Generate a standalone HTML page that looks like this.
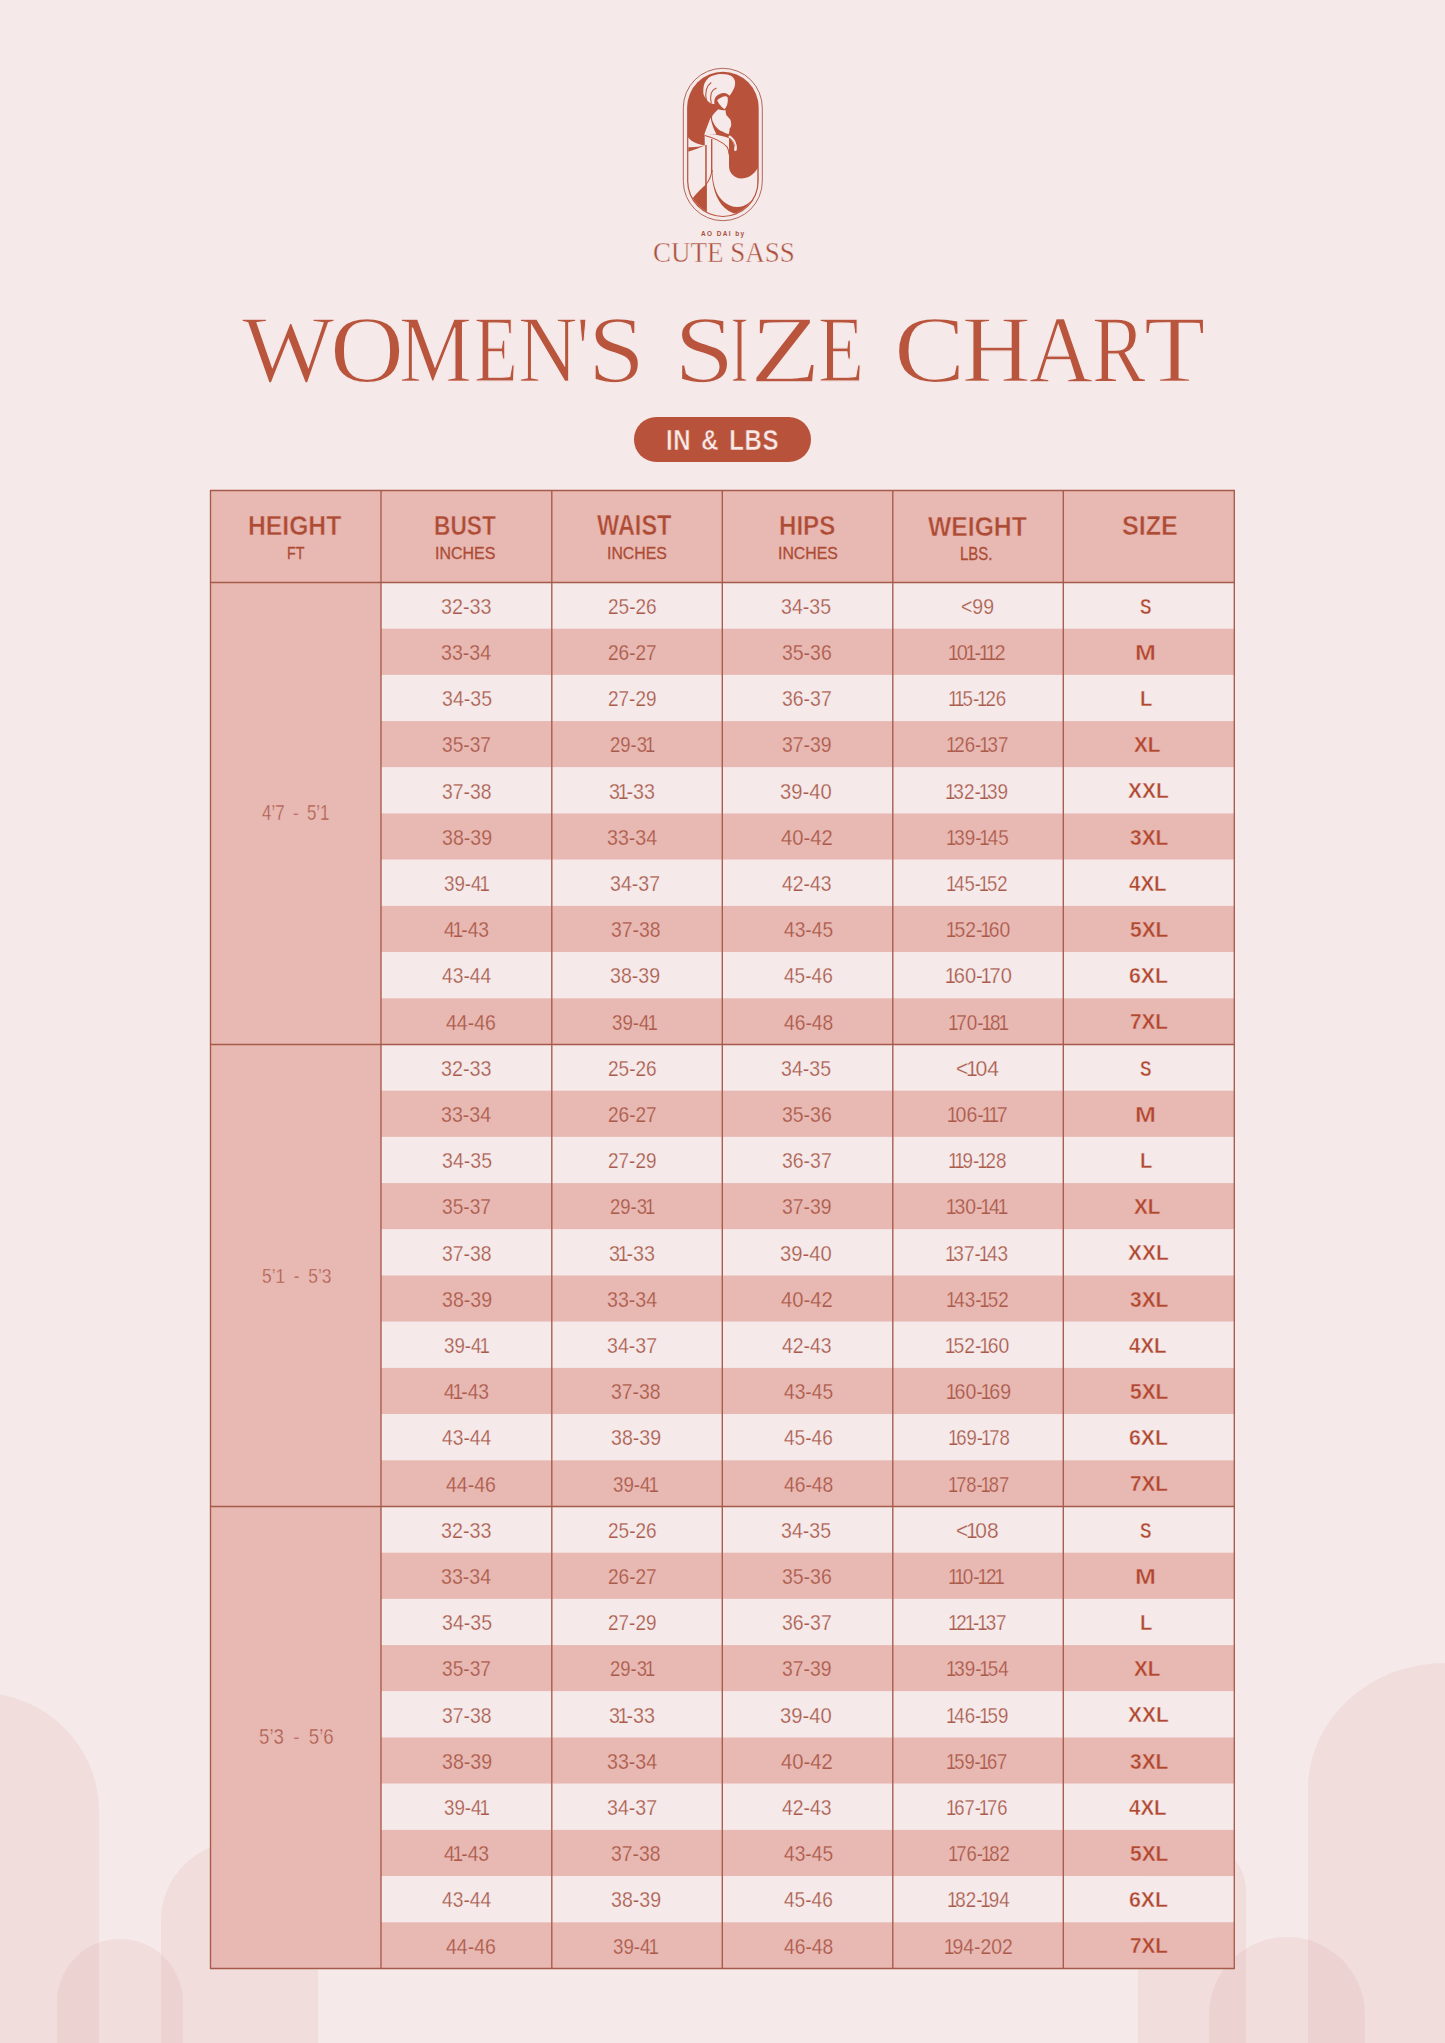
<!DOCTYPE html>
<html><head><meta charset="utf-8"><title>Women's Size Chart</title>
<style>
html,body{margin:0;padding:0;}
body{width:1445px;height:2043px;overflow:hidden;background:#f5e9ea;position:relative;font-family:"Liberation Sans",sans-serif;color:#b4533c;}
.arch{position:absolute;background:rgba(224,168,162,0.18);}
.n{position:absolute;white-space:nowrap;font-family:"Liberation Sans",sans-serif;font-size:21.6px;line-height:46px;color:#a95a4a;transform-origin:0 0;}
.o{margin:0 -2.4px}
.n.l{-webkit-text-stroke:0.25px #f5e9ea;}
.n.d{-webkit-text-stroke:0.25px #e8b8b2;}
.s{position:absolute;white-space:nowrap;transform-origin:0 0;font-family:"Liberation Sans",sans-serif;font-size:21.5px;line-height:46px;font-weight:bold;color:#b0472f;}
.s.l{-webkit-text-stroke:0.45px #f5e9ea;}
.s.d{-webkit-text-stroke:0.45px #e8b8b2;}
.pill{position:absolute;left:633.8px;top:417px;width:177.2px;height:44.6px;border-radius:22.3px;background:#b9523a;}
</style></head><body>
<div class="arch" style="left:-138.7px;top:1692.8px;width:237.4px;height:360.2px;border-radius:118.7px 118.7px 0 0 / 118.7px 118.7px 0 0"></div><div class="arch" style="left:161.0px;top:1842.0px;width:157.0px;height:211.0px;border-radius:78.5px 78.5px 0 0 / 78.5px 78.5px 0 0"></div><div class="arch" style="left:57.0px;top:1939.0px;width:126.0px;height:114.0px;border-radius:63.0px 63.0px 0 0 / 63.0px 63.0px 0 0"></div><div class="arch" style="left:1307.5px;top:1663.0px;width:275.0px;height:390.0px;border-radius:137.5px 137.5px 0 0 / 126.0px 126.0px 0 0"></div><div class="arch" style="left:1138.0px;top:1838.0px;width:108.0px;height:215.0px;border-radius:54.0px 54.0px 0 0 / 54.0px 54.0px 0 0"></div><div class="arch" style="left:1209.0px;top:1937.0px;width:156.0px;height:116.0px;border-radius:78.0px 78.0px 0 0 / 78.0px 78.0px 0 0"></div>
<svg style="position:absolute;left:675px;top:62px" width="96" height="164" viewBox="675 62 96 164">
<defs><clipPath id="cl"><rect x="688.3" y="73" width="69.2" height="142.9" rx="34.6"/></clipPath></defs>
<rect x="683.3" y="68.3" width="79" height="152.4" rx="39.5" fill="none" stroke="#a85a4a" stroke-width="0.9"/>
<rect x="687.1" y="71.8" width="71.6" height="145.3" rx="35.8" fill="#b9523a"/>
<g clip-path="url(#cl)" fill="#f5e9ea">
<path d="M714.4,104 C711,104.5 708,102 706.4,99.1 C704.5,97 703.2,94.5 703.3,92.2 C703.2,87 704,84 705.4,81.8 C707,79 709,77.3 711.6,76 C715,74.5 718.5,73.9 722,73.9 C726,73.9 729,74.8 731.3,76 C733.5,77.5 735,79.8 735.1,82.5 C735.2,85 734.6,87 733.8,88.8 C732.6,91.5 731.2,93.8 729.6,95.7 C728,94 726,93 724.4,92.9 C722.5,92.8 720.8,93.3 719.2,94.3 C717.3,95.3 715.8,96.7 715.1,98.1 C714.3,100 714.2,102 714.4,104 Z"/>
<path d="M717.2,100.2 C719.5,98.2 722,96.6 724.9,96.2 C726,96.1 727,96.6 727.7,97.5 C728,99.5 727.9,101.8 727.4,103.8 C727,105.5 726.4,107 725.5,108 C725,108.7 724.5,109 724.1,108.9 C722.5,107.8 721,106.3 719.8,104.8 C718.6,103.3 717.7,101.8 717.2,100.2 Z"/>
<path d="M718.4,109.2 C716.5,111 714.5,112.5 712.3,115.8 C711.8,118 712,120 712.9,121.4 C714,124 715,125.5 716.2,126.9 C718,129 720,130.5 721.8,131.3 C724,132.5 726,133.5 728.6,134.2 C729.5,132 729.6,130.5 729.5,129.1 C730.5,127.5 731.3,126 731.2,124.7 C731.2,122 730.8,120.5 730.1,119.2 C728.5,117.5 727,116 726.2,114.7 C725.8,113 725.6,111.5 725.6,110.3 C723.5,110.5 720.5,110 718.4,109.2 Z"/>
<path d="M710.6,117.5 L704.3,134.3 L716.5,134.6 C713.5,129 711.4,123 710.6,117.5 Z"/>
<path d="M687.7,136.8 C691,141 697,144.6 704.8,145.2 L704.6,134 C710,134 716,134.6 721.8,135.9 C724.5,136.6 727,137.4 729,138.2 L729,166 C729,173 734.4,178.4 741.2,178.4 C748,178.4 754,175 757.6,168 L757.6,217 L687.5,217 Z"/>
</g>
<g clip-path="url(#cl)" fill="#b9523a">
<path d="M687.6,147.2 C694,147.6 700,146.6 705,145.3 C700,148 694,150 687.6,151.8 Z"/>
<path d="M692.4,198.5 C697,192.5 702,188 706.6,184 L706.6,217 L690,217 Z"/>
<path d="M711.6,170 C711.8,185 715.8,200 724.8,208 C729.8,212.5 735.8,214.5 741.8,215.5 L758,216.5 L758,190 C753,201 746,207 737,207 C728,207 720,200 716.5,192 C713.5,185 712.6,178 712.4,170 Z"/>
</g>
<g clip-path="url(#cl)" fill="none" stroke="#b9523a" stroke-width="1.05">
<path d="M705.95,145 L705.95,217" stroke-width="1.5"/>
<path d="M711.7,139 L711.7,172" stroke-width="1.35"/>
<path d="M711.9,170 C711.4,176 709.5,180 706,184.5"/>
<path d="M704.8,135.5 C709,136.6 713,137.9 717,139.9 C721.5,142.1 725,144.6 727.3,147.2 C728.4,149.2 728.9,151.5 729,154.5"/>
<path d="M706.4,100.5 C705.6,97 705.5,93 706.4,89.5 C707.3,86.5 709,84 711.3,82.5"/>
<path d="M711.3,103.3 C710.5,100 710.4,96 711.3,92.9 C712.3,90.5 714.2,88.8 716.5,88"/>

</g>
<g fill="none" stroke-linecap="round"><path d="M729.8,136.8 C732.6,138.8 734.6,141.8 735.4,145.6 C735.7,147.2 735.7,148.6 735.4,149.8" stroke="#f5e9ea" stroke-width="2.6"/><path d="M730.6,138.9 C732.7,140.6 734.1,142.9 734.8,146.2" stroke="#b9523a" stroke-width="0.7"/></g>
</svg>
<div class="pill"></div>
<div style="position:absolute;left:700.8px;top:229.9px;font-family:'Liberation Sans',sans-serif;font-weight:bold;font-size:6.6px;letter-spacing:1.45px;line-height:1.3;white-space:nowrap;color:#a9503c;transform-origin:0 0;transform:scaleX(0.977)">AO DAI by</div>
<svg style="position:absolute;left:0;top:0" width="1445" height="2043" viewBox="0 0 1445 2043"><rect x="210.5" y="490.5" width="1023.8" height="92.0" fill="#e8b8b2"/><rect x="210.5" y="582.5" width="170.5" height="1386.0" fill="#e8b8b2"/><rect x="381.0" y="582.50" width="853.3" height="46.25" fill="#f5e9ea"/><rect x="381.0" y="628.70" width="853.3" height="46.25" fill="#e8b8b2"/><rect x="381.0" y="674.90" width="853.3" height="46.25" fill="#f5e9ea"/><rect x="381.0" y="721.10" width="853.3" height="46.25" fill="#e8b8b2"/><rect x="381.0" y="767.30" width="853.3" height="46.25" fill="#f5e9ea"/><rect x="381.0" y="813.50" width="853.3" height="46.25" fill="#e8b8b2"/><rect x="381.0" y="859.70" width="853.3" height="46.25" fill="#f5e9ea"/><rect x="381.0" y="905.90" width="853.3" height="46.25" fill="#e8b8b2"/><rect x="381.0" y="952.10" width="853.3" height="46.25" fill="#f5e9ea"/><rect x="381.0" y="998.30" width="853.3" height="46.25" fill="#e8b8b2"/><rect x="381.0" y="1044.50" width="853.3" height="46.25" fill="#f5e9ea"/><rect x="381.0" y="1090.70" width="853.3" height="46.25" fill="#e8b8b2"/><rect x="381.0" y="1136.90" width="853.3" height="46.25" fill="#f5e9ea"/><rect x="381.0" y="1183.10" width="853.3" height="46.25" fill="#e8b8b2"/><rect x="381.0" y="1229.30" width="853.3" height="46.25" fill="#f5e9ea"/><rect x="381.0" y="1275.50" width="853.3" height="46.25" fill="#e8b8b2"/><rect x="381.0" y="1321.70" width="853.3" height="46.25" fill="#f5e9ea"/><rect x="381.0" y="1367.90" width="853.3" height="46.25" fill="#e8b8b2"/><rect x="381.0" y="1414.10" width="853.3" height="46.25" fill="#f5e9ea"/><rect x="381.0" y="1460.30" width="853.3" height="46.25" fill="#e8b8b2"/><rect x="381.0" y="1506.50" width="853.3" height="46.25" fill="#f5e9ea"/><rect x="381.0" y="1552.70" width="853.3" height="46.25" fill="#e8b8b2"/><rect x="381.0" y="1598.90" width="853.3" height="46.25" fill="#f5e9ea"/><rect x="381.0" y="1645.10" width="853.3" height="46.25" fill="#e8b8b2"/><rect x="381.0" y="1691.30" width="853.3" height="46.25" fill="#f5e9ea"/><rect x="381.0" y="1737.50" width="853.3" height="46.25" fill="#e8b8b2"/><rect x="381.0" y="1783.70" width="853.3" height="46.25" fill="#f5e9ea"/><rect x="381.0" y="1829.90" width="853.3" height="46.25" fill="#e8b8b2"/><rect x="381.0" y="1876.10" width="853.3" height="46.25" fill="#f5e9ea"/><rect x="381.0" y="1922.30" width="853.3" height="46.25" fill="#e8b8b2"/><line x1="210.5" y1="490.5" x2="210.5" y2="1968.5" stroke="#a65a49" stroke-width="1.35"/><line x1="381.0" y1="490.5" x2="381.0" y2="1968.5" stroke="#a65a49" stroke-width="1.35"/><line x1="551.8" y1="490.5" x2="551.8" y2="1968.5" stroke="#a65a49" stroke-width="1.35"/><line x1="722.3" y1="490.5" x2="722.3" y2="1968.5" stroke="#a65a49" stroke-width="1.35"/><line x1="892.8" y1="490.5" x2="892.8" y2="1968.5" stroke="#a65a49" stroke-width="1.35"/><line x1="1063.3" y1="490.5" x2="1063.3" y2="1968.5" stroke="#a65a49" stroke-width="1.35"/><line x1="1234.3" y1="490.5" x2="1234.3" y2="1968.5" stroke="#a65a49" stroke-width="1.35"/><line x1="209.9" y1="490.50" x2="1234.8999999999999" y2="490.50" stroke="#a65a49" stroke-width="1.35"/><line x1="209.9" y1="582.50" x2="1234.8999999999999" y2="582.50" stroke="#a65a49" stroke-width="1.35"/><line x1="209.9" y1="1044.50" x2="1234.8999999999999" y2="1044.50" stroke="#a65a49" stroke-width="1.35"/><line x1="209.9" y1="1506.50" x2="1234.8999999999999" y2="1506.50" stroke="#a65a49" stroke-width="1.35"/><line x1="209.9" y1="1968.50" x2="1234.8999999999999" y2="1968.50" stroke="#a65a49" stroke-width="1.35"/></svg>
<div style="position:absolute;left:242.00px;top:287.60px;white-space:nowrap;font-family:'Liberation Serif',serif;color:#b9553d;font-size:96.06px;line-height:1.3;transform-origin:0 0;transform:scaleX(1.0189);-webkit-text-stroke:1.3px #f5e9ea">W</div><div style="position:absolute;left:329.90px;top:287.60px;white-space:nowrap;font-family:'Liberation Serif',serif;color:#b9553d;font-size:96.06px;line-height:1.3;transform-origin:0 0;transform:scaleX(1.0670);-webkit-text-stroke:1.3px #f5e9ea">O</div><div style="position:absolute;left:398.54px;top:287.60px;white-space:nowrap;font-family:'Liberation Serif',serif;color:#b9553d;font-size:96.06px;line-height:1.3;transform-origin:0 0;transform:scaleX(0.8529);-webkit-text-stroke:1.3px #f5e9ea">M</div><div style="position:absolute;left:473.55px;top:287.60px;white-space:nowrap;font-family:'Liberation Serif',serif;color:#b9553d;font-size:96.06px;line-height:1.3;transform-origin:0 0;transform:scaleX(0.7464);-webkit-text-stroke:1.3px #f5e9ea">E</div><div style="position:absolute;left:518.22px;top:287.60px;white-space:nowrap;font-family:'Liberation Serif',serif;color:#b9553d;font-size:96.06px;line-height:1.3;transform-origin:0 0;transform:scaleX(0.8592);-webkit-text-stroke:1.3px #f5e9ea">N</div><div style="position:absolute;left:576.90px;top:287.60px;white-space:nowrap;font-family:'Liberation Serif',serif;color:#b9553d;font-size:96.06px;line-height:1.3;transform-origin:0 0;transform:scaleX(0.6767);-webkit-text-stroke:1.3px #f5e9ea">'</div><div style="position:absolute;left:587.83px;top:287.60px;white-space:nowrap;font-family:'Liberation Serif',serif;color:#b9553d;font-size:96.06px;line-height:1.3;transform-origin:0 0;transform:scaleX(1.0658);-webkit-text-stroke:1.3px #f5e9ea">S</div><div style="position:absolute;left:673.78px;top:287.60px;white-space:nowrap;font-family:'Liberation Serif',serif;color:#b9553d;font-size:96.06px;line-height:1.3;transform-origin:0 0;transform:scaleX(1.1327);-webkit-text-stroke:1.3px #f5e9ea">S</div><div style="position:absolute;left:730.75px;top:287.60px;white-space:nowrap;font-family:'Liberation Serif',serif;color:#b9553d;font-size:96.06px;line-height:1.3;transform-origin:0 0;transform:scaleX(0.5325);-webkit-text-stroke:1.3px #f5e9ea">I</div><div style="position:absolute;left:749.81px;top:287.60px;white-space:nowrap;font-family:'Liberation Serif',serif;color:#b9553d;font-size:96.06px;line-height:1.3;transform-origin:0 0;transform:scaleX(1.2063);-webkit-text-stroke:1.3px #f5e9ea">Z</div><div style="position:absolute;left:818.14px;top:287.60px;white-space:nowrap;font-family:'Liberation Serif',serif;color:#b9553d;font-size:96.06px;line-height:1.3;transform-origin:0 0;transform:scaleX(0.7837);-webkit-text-stroke:1.3px #f5e9ea">E</div><div style="position:absolute;left:894.13px;top:287.60px;white-space:nowrap;font-family:'Liberation Serif',serif;color:#b9553d;font-size:96.06px;line-height:1.3;transform-origin:0 0;transform:scaleX(1.1122);-webkit-text-stroke:1.3px #f5e9ea">C</div><div style="position:absolute;left:962.15px;top:287.60px;white-space:nowrap;font-family:'Liberation Serif',serif;color:#b9553d;font-size:96.06px;line-height:1.3;transform-origin:0 0;transform:scaleX(0.9905);-webkit-text-stroke:1.3px #f5e9ea">H</div><div style="position:absolute;left:1028.82px;top:287.60px;white-space:nowrap;font-family:'Liberation Serif',serif;color:#b9553d;font-size:96.06px;line-height:1.3;transform-origin:0 0;transform:scaleX(0.9208);-webkit-text-stroke:1.3px #f5e9ea">A</div><div style="position:absolute;left:1091.99px;top:287.60px;white-space:nowrap;font-family:'Liberation Serif',serif;color:#b9553d;font-size:96.06px;line-height:1.3;transform-origin:0 0;transform:scaleX(0.8361);-webkit-text-stroke:1.3px #f5e9ea">R</div><div style="position:absolute;left:1143.79px;top:287.60px;white-space:nowrap;font-family:'Liberation Serif',serif;color:#b9553d;font-size:96.06px;line-height:1.3;transform-origin:0 0;transform:scaleX(1.0447);-webkit-text-stroke:1.3px #f5e9ea">T</div><div style="position:absolute;left:652.72px;top:234.17px;white-space:nowrap;font-family:'Liberation Serif',serif;color:#aa4f3b;font-size:28.84px;line-height:1.3;transform-origin:0 0;transform:scaleX(0.9360);-webkit-text-stroke:0.45px #f5e9ea">CUTE SASS</div><div style="position:absolute;left:666.42px;top:421.22px;white-space:nowrap;font-family:'Liberation Sans',sans-serif;font-weight:bold;letter-spacing:0.025em;word-spacing:0.12em;color:#f8e8e6;font-size:29.28px;line-height:1.3;transform-origin:0 0;transform:scaleX(0.8183);-webkit-text-stroke:0.5px #b9523a">IN &amp; LBS</div><div style="position:absolute;left:248.07px;top:508.70px;white-space:nowrap;font-family:'Liberation Sans',sans-serif;font-weight:bold;color:#ad4c35;font-size:27.01px;line-height:1.3;transform-origin:0 0;transform:scaleX(0.9138);-webkit-text-stroke:0.5px #e8b8b2">HEIGHT</div><div style="position:absolute;left:434.21px;top:508.70px;white-space:nowrap;font-family:'Liberation Sans',sans-serif;font-weight:bold;color:#ad4c35;font-size:27.01px;line-height:1.3;transform-origin:0 0;transform:scaleX(0.8411);-webkit-text-stroke:0.5px #e8b8b2">BUST</div><div style="position:absolute;left:597.00px;top:507.19px;white-space:nowrap;font-family:'Liberation Sans',sans-serif;font-weight:bold;color:#ad4c35;font-size:28.69px;line-height:1.3;transform-origin:0 0;transform:scaleX(0.8191);-webkit-text-stroke:0.5px #e8b8b2">WAIST</div><div style="position:absolute;left:779.31px;top:508.70px;white-space:nowrap;font-family:'Liberation Sans',sans-serif;font-weight:bold;color:#ad4c35;font-size:27.01px;line-height:1.3;transform-origin:0 0;transform:scaleX(0.8921);-webkit-text-stroke:0.5px #e8b8b2">HIPS</div><div style="position:absolute;left:928.10px;top:508.79px;white-space:nowrap;font-family:'Liberation Sans',sans-serif;font-weight:bold;color:#ad4c35;font-size:27.37px;line-height:1.3;transform-origin:0 0;transform:scaleX(0.9029);-webkit-text-stroke:0.5px #e8b8b2">WEIGHT</div><div style="position:absolute;left:1122.15px;top:508.70px;white-space:nowrap;font-family:'Liberation Sans',sans-serif;font-weight:bold;color:#ad4c35;font-size:27.01px;line-height:1.3;transform-origin:0 0;transform:scaleX(0.9303);-webkit-text-stroke:0.5px #e8b8b2">SIZE</div><div style="position:absolute;left:286.86px;top:541.69px;white-space:nowrap;font-family:'Liberation Sans',sans-serif;color:#ad4c35;font-size:17.14px;line-height:1.3;transform-origin:0 0;transform:scaleX(0.8333);-webkit-text-stroke:0.3px #ad4c35">FT</div><div style="position:absolute;left:435.06px;top:542.93px;white-space:nowrap;font-family:'Liberation Sans',sans-serif;color:#ad4c35;font-size:16.90px;line-height:1.3;transform-origin:0 0;transform:scaleX(0.9444);-webkit-text-stroke:0.3px #ad4c35">INCHES</div><div style="position:absolute;left:606.87px;top:542.93px;white-space:nowrap;font-family:'Liberation Sans',sans-serif;color:#ad4c35;font-size:16.90px;line-height:1.3;transform-origin:0 0;transform:scaleX(0.9368);-webkit-text-stroke:0.3px #ad4c35">INCHES</div><div style="position:absolute;left:777.67px;top:542.93px;white-space:nowrap;font-family:'Liberation Sans',sans-serif;color:#ad4c35;font-size:16.90px;line-height:1.3;transform-origin:0 0;transform:scaleX(0.9368);-webkit-text-stroke:0.3px #ad4c35">INCHES</div><div style="position:absolute;left:960.00px;top:542.66px;white-space:nowrap;font-family:'Liberation Sans',sans-serif;color:#ad4c35;font-size:17.48px;line-height:1.3;transform-origin:0 0;transform:scaleX(0.8580);-webkit-text-stroke:0.3px #ad4c35">LBS.</div><div style="position:absolute;left:261.96px;top:797.71px;white-space:nowrap;font-family:'Liberation Sans',sans-serif;color:#a95a4a;word-spacing:0.22em;font-size:22.64px;line-height:1.3;transform-origin:0 0;transform:scaleX(0.7454);-webkit-text-stroke:0.4px #e8b8b2">4’7 - 5’1</div><div style="position:absolute;left:262.01px;top:1261.70px;white-space:nowrap;font-family:'Liberation Sans',sans-serif;color:#a95a4a;word-spacing:0.22em;font-size:20.99px;line-height:1.3;transform-origin:0 0;transform:scaleX(0.8280);-webkit-text-stroke:0.4px #e8b8b2">5’1 - 5’3</div><div style="position:absolute;left:259.25px;top:1723.74px;white-space:nowrap;font-family:'Liberation Sans',sans-serif;color:#a95a4a;word-spacing:0.22em;font-size:21.52px;line-height:1.3;transform-origin:0 0;transform:scaleX(0.8684);-webkit-text-stroke:0.4px #e8b8b2">5’3 - 5’6</div>
<div class="n l" style="left:441.33px;top:583.80px;transform:scaleX(0.9151)">32-33</div><div class="n l" style="left:608.07px;top:583.80px;transform:scaleX(0.8811)">25-26</div><div class="n l" style="left:781.39px;top:583.80px;transform:scaleX(0.9057)">34-35</div><div class="n l" style="left:960.55px;top:583.80px;transform:scaleX(0.9000)">&lt;99</div><div class="n d" style="left:441.09px;top:630.00px;transform:scaleX(0.9074)">33-34</div><div class="n d" style="left:608.07px;top:630.00px;transform:scaleX(0.8811)">26-27</div><div class="n d" style="left:781.55px;top:630.00px;transform:scaleX(0.9000)">35-36</div><div class="n d" style="left:950.47px;top:630.00px;transform:scaleX(0.9217)"><span class="o">1</span>0<span class="o">1</span>-<span class="o">1</span><span class="o">1</span>2</div><div class="n l" style="left:441.59px;top:676.20px;transform:scaleX(0.9057)">34-35</div><div class="n l" style="left:608.17px;top:676.20px;transform:scaleX(0.8774)">27-29</div><div class="n l" style="left:781.55px;top:676.20px;transform:scaleX(0.9000)">36-37</div><div class="n l" style="left:949.92px;top:676.20px;transform:scaleX(0.8662)"><span class="o">1</span><span class="o">1</span>5-<span class="o">1</span>26</div><div class="n d" style="left:442.11px;top:722.40px;transform:scaleX(0.8868)">35-37</div><div class="n d" style="left:609.59px;top:722.40px;transform:scaleX(0.8569)">29-3<span class="o">1</span></div><div class="n d" style="left:781.65px;top:722.40px;transform:scaleX(0.8962)">37-39</div><div class="n d" style="left:947.77px;top:722.40px;transform:scaleX(0.8657)"><span class="o">1</span>26-<span class="o">1</span>37</div><div class="n l" style="left:441.85px;top:768.60px;transform:scaleX(0.8962)">37-38</div><div class="n l" style="left:609.04px;top:768.60px;transform:scaleX(0.9122)">3<span class="o">1</span>-33</div><div class="n l" style="left:780.11px;top:768.60px;transform:scaleX(0.9352)">39-40</div><div class="n l" style="left:947.38px;top:768.60px;transform:scaleX(0.8771)"><span class="o">1</span>32-<span class="o">1</span>39</div><div class="n d" style="left:441.59px;top:814.80px;transform:scaleX(0.9057)">38-39</div><div class="n d" style="left:606.89px;top:814.80px;transform:scaleX(0.9074)">33-34</div><div class="n d" style="left:781.05px;top:814.80px;transform:scaleX(0.9352)">40-42</div><div class="n d" style="left:947.62px;top:814.80px;transform:scaleX(0.8700)"><span class="o">1</span>39-<span class="o">1</span>45</div><div class="n l" style="left:443.53px;top:861.00px;transform:scaleX(0.8667)">39-4<span class="o">1</span></div><div class="n l" style="left:610.49px;top:861.00px;transform:scaleX(0.9057)">34-37</div><div class="n l" style="left:782.05px;top:861.00px;transform:scaleX(0.8981)">42-43</div><div class="n l" style="left:948.11px;top:861.00px;transform:scaleX(0.8557)"><span class="o">1</span>45-<span class="o">1</span>52</div><div class="n d" style="left:444.15px;top:907.20px;transform:scaleX(0.8940)">4<span class="o">1</span>-43</div><div class="n d" style="left:610.75px;top:907.20px;transform:scaleX(0.8962)">37-38</div><div class="n d" style="left:783.80px;top:907.20px;transform:scaleX(0.8889)">43-45</div><div class="n d" style="left:948.39px;top:907.20px;transform:scaleX(0.8943)"><span class="o">1</span>52-<span class="o">1</span>60</div><div class="n l" style="left:442.00px;top:953.40px;transform:scaleX(0.8909)">43-44</div><div class="n l" style="left:610.49px;top:953.40px;transform:scaleX(0.9057)">38-39</div><div class="n l" style="left:783.95px;top:953.40px;transform:scaleX(0.8833)">45-46</div><div class="n l" style="left:947.18px;top:953.40px;transform:scaleX(0.9300)"><span class="o">1</span>60-<span class="o">1</span>70</div><div class="n d" style="left:445.65px;top:999.60px;transform:scaleX(0.9019)">44-46</div><div class="n d" style="left:612.43px;top:999.60px;transform:scaleX(0.8667)">39-4<span class="o">1</span></div><div class="n d" style="left:783.70px;top:999.60px;transform:scaleX(0.8926)">46-48</div><div class="n d" style="left:950.37px;top:999.60px;transform:scaleX(0.8746)"><span class="o">1</span>70-<span class="o">1</span>8<span class="o">1</span></div><div class="n l" style="left:441.33px;top:1045.80px;transform:scaleX(0.9151)">32-33</div><div class="n l" style="left:608.07px;top:1045.80px;transform:scaleX(0.8811)">25-26</div><div class="n l" style="left:781.39px;top:1045.80px;transform:scaleX(0.9057)">34-35</div><div class="n l" style="left:955.62px;top:1045.80px;transform:scaleX(0.9810)">&lt;<span class="o">1</span>04</div><div class="n d" style="left:441.09px;top:1092.00px;transform:scaleX(0.9074)">33-34</div><div class="n d" style="left:608.07px;top:1092.00px;transform:scaleX(0.8811)">26-27</div><div class="n d" style="left:781.55px;top:1092.00px;transform:scaleX(0.9000)">35-36</div><div class="n d" style="left:948.70px;top:1092.00px;transform:scaleX(0.9046)"><span class="o">1</span>06-<span class="o">1</span><span class="o">1</span>7</div><div class="n l" style="left:441.59px;top:1138.20px;transform:scaleX(0.9057)">34-35</div><div class="n l" style="left:608.17px;top:1138.20px;transform:scaleX(0.8774)">27-29</div><div class="n l" style="left:781.55px;top:1138.20px;transform:scaleX(0.9000)">36-37</div><div class="n l" style="left:949.77px;top:1138.20px;transform:scaleX(0.8708)"><span class="o">1</span><span class="o">1</span>9-<span class="o">1</span>28</div><div class="n d" style="left:442.11px;top:1184.40px;transform:scaleX(0.8868)">35-37</div><div class="n d" style="left:609.59px;top:1184.40px;transform:scaleX(0.8569)">29-3<span class="o">1</span></div><div class="n d" style="left:781.65px;top:1184.40px;transform:scaleX(0.8962)">37-39</div><div class="n d" style="left:948.05px;top:1184.40px;transform:scaleX(0.8970)"><span class="o">1</span>30-<span class="o">1</span>4<span class="o">1</span></div><div class="n l" style="left:441.85px;top:1230.60px;transform:scaleX(0.8962)">37-38</div><div class="n l" style="left:609.04px;top:1230.60px;transform:scaleX(0.9122)">3<span class="o">1</span>-33</div><div class="n l" style="left:780.11px;top:1230.60px;transform:scaleX(0.9352)">39-40</div><div class="n l" style="left:947.38px;top:1230.60px;transform:scaleX(0.8771)"><span class="o">1</span>37-<span class="o">1</span>43</div><div class="n d" style="left:441.59px;top:1276.80px;transform:scaleX(0.9057)">38-39</div><div class="n d" style="left:606.89px;top:1276.80px;transform:scaleX(0.9074)">33-34</div><div class="n d" style="left:781.05px;top:1276.80px;transform:scaleX(0.9352)">40-42</div><div class="n d" style="left:947.62px;top:1276.80px;transform:scaleX(0.8700)"><span class="o">1</span>43-<span class="o">1</span>52</div><div class="n l" style="left:443.53px;top:1323.00px;transform:scaleX(0.8667)">39-4<span class="o">1</span></div><div class="n l" style="left:607.39px;top:1323.00px;transform:scaleX(0.9057)">34-37</div><div class="n l" style="left:782.05px;top:1323.00px;transform:scaleX(0.8981)">42-43</div><div class="n l" style="left:946.79px;top:1323.00px;transform:scaleX(0.8943)"><span class="o">1</span>52-<span class="o">1</span>60</div><div class="n d" style="left:444.15px;top:1369.20px;transform:scaleX(0.8940)">4<span class="o">1</span>-43</div><div class="n d" style="left:610.85px;top:1369.20px;transform:scaleX(0.8962)">37-38</div><div class="n d" style="left:783.80px;top:1369.20px;transform:scaleX(0.8889)">43-45</div><div class="n d" style="left:948.05px;top:1369.20px;transform:scaleX(0.9043)"><span class="o">1</span>60-<span class="o">1</span>69</div><div class="n l" style="left:442.00px;top:1415.40px;transform:scaleX(0.8909)">43-44</div><div class="n l" style="left:610.59px;top:1415.40px;transform:scaleX(0.9057)">38-39</div><div class="n l" style="left:783.95px;top:1415.40px;transform:scaleX(0.8833)">45-46</div><div class="n l" style="left:949.61px;top:1415.40px;transform:scaleX(0.8586)"><span class="o">1</span>69-<span class="o">1</span>78</div><div class="n d" style="left:445.65px;top:1461.60px;transform:scaleX(0.9019)">44-46</div><div class="n d" style="left:612.53px;top:1461.60px;transform:scaleX(0.8667)">39-4<span class="o">1</span></div><div class="n d" style="left:783.70px;top:1461.60px;transform:scaleX(0.8926)">46-48</div><div class="n d" style="left:949.95px;top:1461.60px;transform:scaleX(0.8486)"><span class="o">1</span>78-<span class="o">1</span>87</div><div class="n l" style="left:441.33px;top:1507.80px;transform:scaleX(0.9151)">32-33</div><div class="n l" style="left:608.07px;top:1507.80px;transform:scaleX(0.8811)">25-26</div><div class="n l" style="left:781.39px;top:1507.80px;transform:scaleX(0.9057)">34-35</div><div class="n l" style="left:955.88px;top:1507.80px;transform:scaleX(0.9690)">&lt;<span class="o">1</span>08</div><div class="n d" style="left:441.09px;top:1554.00px;transform:scaleX(0.9074)">33-34</div><div class="n d" style="left:608.07px;top:1554.00px;transform:scaleX(0.8811)">26-27</div><div class="n d" style="left:781.55px;top:1554.00px;transform:scaleX(0.9000)">35-36</div><div class="n d" style="left:950.43px;top:1554.00px;transform:scaleX(0.8778)"><span class="o">1</span><span class="o">1</span>0-<span class="o">1</span>2<span class="o">1</span></div><div class="n l" style="left:441.59px;top:1600.20px;transform:scaleX(0.9057)">34-35</div><div class="n l" style="left:608.17px;top:1600.20px;transform:scaleX(0.8774)">27-29</div><div class="n l" style="left:781.55px;top:1600.20px;transform:scaleX(0.9000)">36-37</div><div class="n l" style="left:949.77px;top:1600.20px;transform:scaleX(0.8708)"><span class="o">1</span>2<span class="o">1</span>-<span class="o">1</span>37</div><div class="n d" style="left:442.11px;top:1646.40px;transform:scaleX(0.8868)">35-37</div><div class="n d" style="left:609.59px;top:1646.40px;transform:scaleX(0.8569)">29-3<span class="o">1</span></div><div class="n d" style="left:781.65px;top:1646.40px;transform:scaleX(0.8962)">37-39</div><div class="n d" style="left:947.62px;top:1646.40px;transform:scaleX(0.8700)"><span class="o">1</span>39-<span class="o">1</span>54</div><div class="n l" style="left:441.85px;top:1692.60px;transform:scaleX(0.8962)">37-38</div><div class="n l" style="left:609.04px;top:1692.60px;transform:scaleX(0.9122)">3<span class="o">1</span>-33</div><div class="n l" style="left:780.11px;top:1692.60px;transform:scaleX(0.9352)">39-40</div><div class="n l" style="left:947.77px;top:1692.60px;transform:scaleX(0.8657)"><span class="o">1</span>46-<span class="o">1</span>59</div><div class="n d" style="left:441.59px;top:1738.80px;transform:scaleX(0.9057)">38-39</div><div class="n d" style="left:606.89px;top:1738.80px;transform:scaleX(0.9074)">33-34</div><div class="n d" style="left:781.05px;top:1738.80px;transform:scaleX(0.9352)">40-42</div><div class="n d" style="left:948.25px;top:1738.80px;transform:scaleX(0.8514)"><span class="o">1</span>59-<span class="o">1</span>67</div><div class="n l" style="left:443.53px;top:1785.00px;transform:scaleX(0.8667)">39-4<span class="o">1</span></div><div class="n l" style="left:607.39px;top:1785.00px;transform:scaleX(0.9057)">34-37</div><div class="n l" style="left:782.05px;top:1785.00px;transform:scaleX(0.8981)">42-43</div><div class="n l" style="left:948.15px;top:1785.00px;transform:scaleX(0.8543)"><span class="o">1</span>67-<span class="o">1</span>76</div><div class="n d" style="left:444.15px;top:1831.20px;transform:scaleX(0.8940)">4<span class="o">1</span>-43</div><div class="n d" style="left:610.85px;top:1831.20px;transform:scaleX(0.8962)">37-38</div><div class="n d" style="left:783.80px;top:1831.20px;transform:scaleX(0.8889)">43-45</div><div class="n d" style="left:949.61px;top:1831.20px;transform:scaleX(0.8586)"><span class="o">1</span>76-<span class="o">1</span>82</div><div class="n l" style="left:442.00px;top:1877.40px;transform:scaleX(0.8909)">43-44</div><div class="n l" style="left:610.59px;top:1877.40px;transform:scaleX(0.9057)">38-39</div><div class="n l" style="left:783.95px;top:1877.40px;transform:scaleX(0.8833)">45-46</div><div class="n l" style="left:949.22px;top:1877.40px;transform:scaleX(0.8700)"><span class="o">1</span>82-<span class="o">1</span>94</div><div class="n d" style="left:445.65px;top:1923.60px;transform:scaleX(0.9019)">44-46</div><div class="n d" style="left:612.53px;top:1923.60px;transform:scaleX(0.8667)">39-4<span class="o">1</span></div><div class="n d" style="left:783.70px;top:1923.60px;transform:scaleX(0.8926)">46-48</div><div class="n d" style="left:946.10px;top:1923.60px;transform:scaleX(0.8960)"><span class="o">1</span>94-202</div><div class="s l" style="left:1139.70px;top:583.50px;transform:scaleX(0.8000)">S</div><div class="s d" style="left:1135.48px;top:629.70px;transform:scaleX(1.1687)">M</div><div class="s l" style="left:1139.61px;top:675.90px;transform:scaleX(0.9417)">L</div><div class="s d" style="left:1134.40px;top:722.10px;transform:scaleX(0.9630)">XL</div><div class="s l" style="left:1127.60px;top:768.30px;transform:scaleX(0.9756)">XXL</div><div class="s d" style="left:1129.63px;top:814.50px;transform:scaleX(0.9737)">3XL</div><div class="s l" style="left:1128.80px;top:860.70px;transform:scaleX(0.9538)">4XL</div><div class="s d" style="left:1129.63px;top:906.90px;transform:scaleX(0.9737)">5XL</div><div class="s l" style="left:1128.96px;top:953.10px;transform:scaleX(0.9921)">6XL</div><div class="s d" style="left:1129.64px;top:999.30px;transform:scaleX(0.9632)">7XL</div><div class="s l" style="left:1139.70px;top:1045.50px;transform:scaleX(0.8000)">S</div><div class="s d" style="left:1135.48px;top:1091.70px;transform:scaleX(1.1687)">M</div><div class="s l" style="left:1139.61px;top:1137.90px;transform:scaleX(0.9417)">L</div><div class="s d" style="left:1134.40px;top:1184.10px;transform:scaleX(0.9630)">XL</div><div class="s l" style="left:1127.60px;top:1230.30px;transform:scaleX(0.9756)">XXL</div><div class="s d" style="left:1129.63px;top:1276.50px;transform:scaleX(0.9737)">3XL</div><div class="s l" style="left:1128.80px;top:1322.70px;transform:scaleX(0.9538)">4XL</div><div class="s d" style="left:1129.63px;top:1368.90px;transform:scaleX(0.9737)">5XL</div><div class="s l" style="left:1128.96px;top:1415.10px;transform:scaleX(0.9921)">6XL</div><div class="s d" style="left:1129.64px;top:1461.30px;transform:scaleX(0.9632)">7XL</div><div class="s l" style="left:1139.70px;top:1507.50px;transform:scaleX(0.8000)">S</div><div class="s d" style="left:1135.48px;top:1553.70px;transform:scaleX(1.1687)">M</div><div class="s l" style="left:1139.61px;top:1599.90px;transform:scaleX(0.9417)">L</div><div class="s d" style="left:1134.40px;top:1646.10px;transform:scaleX(0.9630)">XL</div><div class="s l" style="left:1127.60px;top:1692.30px;transform:scaleX(0.9756)">XXL</div><div class="s d" style="left:1129.63px;top:1738.50px;transform:scaleX(0.9737)">3XL</div><div class="s l" style="left:1128.80px;top:1784.70px;transform:scaleX(0.9538)">4XL</div><div class="s d" style="left:1129.63px;top:1830.90px;transform:scaleX(0.9737)">5XL</div><div class="s l" style="left:1128.96px;top:1877.10px;transform:scaleX(0.9921)">6XL</div><div class="s d" style="left:1129.64px;top:1923.30px;transform:scaleX(0.9632)">7XL</div>
</body></html>
